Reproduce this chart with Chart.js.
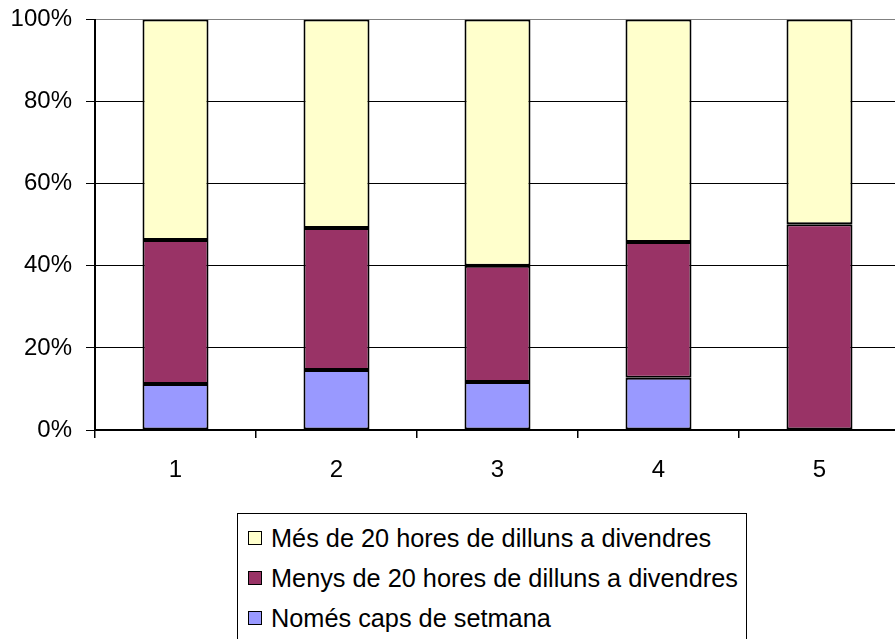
<!DOCTYPE html>
<html>
<head>
<meta charset="utf-8">
<script src="https://cdn.jsdelivr.net/npm/chart.js@4.4.1/dist/chart.umd.min.js"></script>
<style>
  html, body { margin: 0; padding: 0; background: #fff; }
  #wrap { position: relative; width: 895px; height: 639px; overflow: hidden; }
  #chart { position: absolute; left: 0; top: 0; }
  #legend {
    position: absolute; left: 237px; top: 513px; width: 510px; height: 140px;
    border: 1px solid #000; box-sizing: border-box; background: #fff;
    font-family: "Liberation Sans", Arial, sans-serif; font-size: 25.3px; color: #000;
  }
  #legend ul { list-style: none; margin: 0; padding: 4px 0 0 10px; }
  #legend li { height: 40px; line-height: 34px; display: flex; align-items: center; white-space: nowrap; }
  #legend .box { display: inline-block; width: 12px; height: 12px; border: 1px solid #000; margin-right: 9px; }
</style>
</head>
<body>
<div id="wrap">
  <canvas id="chart" width="905" height="639"></canvas>
  <div id="legend"></div>
</div>
<script>
const categories = ['1', '2', '3', '4', '5'];
const nomesCaps = [11.2, 14.6, 11.7, 12.7, 0];
const menys20 = [35.1, 34.6, 28.3, 33.1, 50.1];
const mes20 = [53.7, 50.8, 60.0, 54.2, 49.9];
const yTicks = [0, 20, 40, 60, 80, 100];

const seriesLabels = [
  'Només caps de setmana',
  'Menys de 20 hores de dilluns a divendres',
  'Més de 20 hores de dilluns a divendres',
];
const seriesColors = ['#9999FF', '#993366', '#FFFFCC'];
const seriesData = [nomesCaps, menys20, mes20];

const font = { family: '"Liberation Sans", Arial, sans-serif', size: 24 };

const htmlLegend = {
  id: 'htmlLegend',
  afterUpdate(chart) {
    const el = document.getElementById('legend');
    el.innerHTML = '';
    const ul = document.createElement('ul');
    // reverse so the top segment comes first, like the original
    chart.data.datasets.slice().reverse().forEach((ds) => {
      const li = document.createElement('li');
      const box = document.createElement('span');
      box.className = 'box';
      box.style.background = ds.backgroundColor;
      li.appendChild(box);
      li.appendChild(document.createTextNode(ds.label));
      ul.appendChild(li);
    });
    el.appendChild(ul);
  },
};

const config = {
  type: 'bar',
  data: {
    labels: categories,
    datasets: seriesData.map((d, i) => ({
      label: seriesLabels[i],
      data: d,
      backgroundColor: seriesColors[i],
      borderColor: '#000',
      borderWidth: 2,
      borderSkipped: false,
      barPercentage: 0.41,
      categoryPercentage: 1,
    })),
  },
  options: {
    responsive: false,
    animation: false,
    layout: { padding: { top: 19.5, right: 5, bottom: 0, left: 0 } },
    plugins: {
      legend: { display: false },
      tooltip: { enabled: false },
      title: { display: false },
    },
    scales: {
      x: {
        stacked: true,
        offset: true,
        grid: {
          offset: true,
          drawOnChartArea: false,
          drawTicks: true,
          tickLength: 8,
          color: '#000',
          lineWidth: 1.5,
        },
        border: { display: true, color: '#000', width: 2 },
        ticks: { color: '#000', font, padding: 18, maxRotation: 0 },
        afterFit(scale) {
          scale.height = 209;
          scale.paddingLeft = 0;
          scale.paddingRight = 0;
        },
      },
      y: {
        stacked: true,
        min: 0,
        max: 100,
        afterBuildTicks(scale) { scale.ticks = yTicks.map((v) => ({ value: v })); },
        grid: {
          color: (ctx) => (ctx.tick && ctx.tick.value === 100 ? '#808080' : '#000'),
          tickColor: '#000',
          lineWidth: 1,
          tickLength: 9,
        },
        border: { display: true, color: '#000', width: 2 },
        ticks: { color: '#000', font, padding: 14, callback: (v) => v + '%' },
        afterFit(scale) {
          scale.width = 95;
          scale.paddingTop = 0;
          scale.paddingBottom = 0;
        },
      },
    },
  },
  plugins: [htmlLegend],
};

new Chart(document.getElementById('chart'), config);
</script>
</body>
</html>
